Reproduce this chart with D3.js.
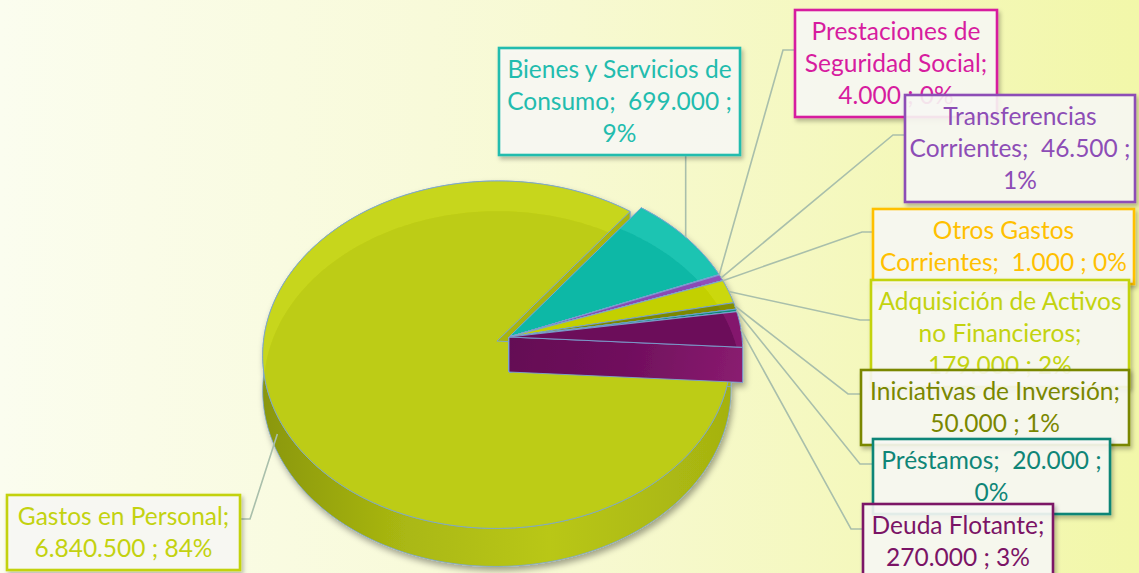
<!DOCTYPE html>
<html>
<head>
<meta charset="utf-8">
<script src="https://cdn.jsdelivr.net/npm/d3@7"></script>
<style>
  html, body { margin: 0; padding: 0; background: #fff; }
  svg { display: block; }
  .lbl { font-family: Lato, "Open Sans", sans-serif; white-space: pre; }
</style>
</head>
<body>
<svg id="chart" width="1139" height="573"></svg>
<script>
// ---- data ----
const categories = [
  "Gastos en Personal",
  "Bienes y Servicios de Consumo",
  "Prestaciones de Seguridad Social",
  "Transferencias Corrientes",
  "Otros Gastos Corrientes",
  "Adquisición de Activos no Financieros",
  "Iniciativas de Inversión",
  "Préstamos",
  "Deuda Flotante"
];
const values = [6840500, 699000, 4000, 46500, 1000, 179000, 50000, 20000, 270000];
// words per label line
const lineWords = [[3, 3], [4, 3, 1], [2, 2, 3], [1, 3, 1], [2, 4], [3, 2, 3], [3, 3], [3, 1], [2, 3]];

// ---- styles ----
const topColors   = ["#c7d61c", "#1ec4b2", "#da1ca2", "#9150bb", "#ffc41a", "#cbd80a", "#858f00", "#11907f", "#84196d"];
const innerColors = ["#bdcc14", "#10b8a6", "#d1149a", "#8a48b5", "#f5b800", "#c3d000", "#7c8800", "#0d8676", "#6c0e5a"];
const labelColors = ["#c3d20f", "#22bcae", "#d71c9f", "#8d4db6", "#ffc000", "#c3d30f", "#7a8700", "#0f8577", "#7b1466"];
const explode = [0.057, 0, 0, 0, 0, 0, 0, 0, 0];

// label boxes: x, y, width, side the leader leaves from, leader y offset, elbow length
const boxes = [
  { x: 7,   y: 495, w: 233, side: "right",  dy: 24, elbow: 10 },
  { x: 499, y: 48,  w: 241, side: "bottom", dy: 0,  elbow: 0 },
  { x: 795, y: 10,  w: 202, side: "left",   dy: 40, elbow: 12 },
  { x: 905, y: 95,  w: 230, side: "left",   dy: 40, elbow: 12 },
  { x: 873, y: 209, w: 261, side: "left",   dy: 23, elbow: 11 },
  { x: 871, y: 280, w: 258, side: "left",   dy: 40, elbow: 11 },
  { x: 861, y: 370, w: 268, side: "left",   dy: 24, elbow: 13 },
  { x: 873, y: 439, w: 237, side: "left",   dy: 25, elbow: 13 },
  { x: 863, y: 504, w: 190, side: "left",   dy: 25, elbow: 12 }
];

const W = 1139, H = 573;
const CX = 509, CY = 337, RX = 233, RY = 172, PERSP = 0.078, DEPTH = 35;
const START = (90 + 3.42) * Math.PI / 180;
const OUTLINE = "#7aa5d3";
const FONT_SIZE = 24.5, LINE_H = 32, FIRST_BASE = 30;

const svg = d3.select("#chart");
const defs = svg.append("defs");

// background
const bg = defs.append("linearGradient").attr("id", "bg").attr("x1", 0).attr("x2", 1).attr("y1", 0).attr("y2", 0);
bg.append("stop").attr("offset", 0).attr("stop-color", "#fbfdef");
bg.append("stop").attr("offset", 0.5).attr("stop-color", "#f7f9d2");
bg.append("stop").attr("offset", 1).attr("stop-color", "#f2f7a9");
svg.append("rect").attr("width", W).attr("height", H).attr("fill", "url(#bg)");

// filters
const ps = defs.append("filter").attr("id", "pieShadow").attr("x", -0.1).attr("y", -0.1).attr("width", 1.3).attr("height", 1.3);
ps.append("feDropShadow").attr("dx", 2).attr("dy", 4).attr("stdDeviation", 3).attr("flood-color", "#000").attr("flood-opacity", 0.35);
const bs = defs.append("filter").attr("id", "boxShadow").attr("x", -0.1).attr("y", -0.1).attr("width", 1.3).attr("height", 1.4);
bs.append("feDropShadow").attr("dx", 2).attr("dy", 3).attr("stdDeviation", 2).attr("flood-color", "#000").attr("flood-opacity", 0.28);

// rim gradient of the large slice
const rg = defs.append("linearGradient").attr("id", "rimGrad").attr("gradientUnits", "userSpaceOnUse")
  .attr("x1", 263).attr("x2", 740).attr("y1", 0).attr("y2", 0);
[[0, "#8a970b"], [0.3, "#aab812"], [0.6, "#b9c716"], [1, "#a4b110"]].forEach(([o, c]) =>
  rg.append("stop").attr("offset", o).attr("stop-color", c));
// front cut face gradient of the last slice
const fg = defs.append("linearGradient").attr("id", "faceGrad").attr("gradientUnits", "userSpaceOnUse")
  .attr("x1", 509).attr("y1", 338).attr("x2", 742).attr("y2", 385);
[[0, "#640b54"], [0.5, "#700f5d"], [1, "#8a1c70"]].forEach(([o, c]) =>
  fg.append("stop").attr("offset", o).attr("stop-color", c));

// perspective projection of a disk point (X, Z in radius units, h = depth in px)
function proj(X, Z, h) {
  const s = 1 / (1 - PERSP * Z);
  return [CX + RX * X * s, CY + RY * Z * s + h * s];
}
function arcPts(ox, oz, a0, a1, h, r = 1) {
  const n = Math.max(2, Math.ceil(Math.abs(a1 - a0) / (Math.PI / 180))) + 1;
  return d3.range(n).map(k => {
    const a = a0 + (a1 - a0) * k / (n - 1);
    return proj(ox + r * Math.cos(a), oz + r * Math.sin(a), h);
  });
}
const poly = pts => "M" + pts.map(p => p[0].toFixed(2) + "," + p[1].toFixed(2)).join("L") + "Z";

const pie = d3.pie().sort(null).startAngle(START).endAngle(START + 2 * Math.PI);
const arcs = pie(values);

const pieG = svg.append("g").attr("filter", "url(#pieShadow)");
const anchors = [];

arcs.forEach((d, i) => {
  const a0 = d.startAngle - Math.PI / 2, a1 = d.endAngle - Math.PI / 2, am = (a0 + a1) / 2;
  const ox = explode[i] * Math.cos(am), oz = explode[i] * Math.sin(am);
  const g = pieG.append("g");
  const faceCol = d3.color(innerColors[i]).darker(0.2).formatHex();

  // outer rim
  const topArc = arcPts(ox, oz, a0, a1, 0);
  const botArc = arcPts(ox, oz, a0, a1, DEPTH);
  g.append("path").attr("d", poly(topArc.concat(botArc.slice().reverse())))
    .attr("fill", i === 0 ? "url(#rimGrad)" : d3.color(topColors[i]).darker(0.15).formatHex())
    .attr("stroke", OUTLINE).attr("stroke-width", 0.8);

  // radial cut faces
  [a0, a1].forEach((a, j) => {
    const c0 = proj(ox, oz, 0), r0 = proj(ox + Math.cos(a), oz + Math.sin(a), 0);
    const r1 = proj(ox + Math.cos(a), oz + Math.sin(a), DEPTH), c1 = proj(ox, oz, DEPTH);
    const isFront = (j === 1 && i === arcs.length - 1);
    g.append("path").attr("d", poly([c0, r0, r1, c1]))
      .attr("fill", isFront ? "url(#faceGrad)" : (i === 0 ? "#a8b510" : faceCol))
      .attr("stroke", OUTLINE).attr("stroke-width", 0.9);
  });

  // top surface with a lighter outer band
  const topPts = [proj(ox, oz, 0)].concat(topArc);
  defs.append("clipPath").attr("id", "clip" + i).append("path").attr("d", poly(topPts));
  g.append("path").attr("d", poly(topPts)).attr("fill", topColors[i]);
  g.append("path").attr("d", poly(arcPts(ox, oz + 0.18, 0, 2 * Math.PI, 0, 0.98)))
    .attr("fill", innerColors[i]).attr("clip-path", `url(#clip${i})`);
  g.append("path").attr("d", poly(topPts)).attr("fill", "none")
    .attr("stroke", OUTLINE).attr("stroke-width", 0.9);

  anchors.push(i === 0
    ? proj(ox + Math.cos(am), oz + Math.sin(am), DEPTH / 2)
    : proj(ox + Math.cos(am), oz + Math.sin(am), 0));
});

// ---- labels ----
const fmtNum = d3.formatLocale({ decimal: ",", thousands: ".", grouping: [3], currency: ["", ""] }).format(",d");
const total = d3.sum(values);
const labelLines = i => {
  const txt = `${categories[i]};  ${fmtNum(values[i])} ; ${Math.round(values[i] / total * 100)}%`;
  const tokens = txt.match(/\S+\s*/g);
  const out = [];
  let k = 0;
  lineWords[i].forEach(n => { out.push(tokens.slice(k, k + n).join("").trimEnd()); k += n; });
  return out;
};

// leader lines
const leaderG = svg.append("g");
boxes.forEach((b, i) => {
  const n = lineWords[i].length;
  const h = LINE_H * n + 11;
  const a = anchors[i];
  let pts;
  if (b.side === "left") pts = [[b.x, b.y + b.dy], [b.x - b.elbow, b.y + b.dy], a];
  else if (b.side === "right") pts = [[b.x + b.w, b.y + b.dy], [b.x + b.w + b.elbow, b.y + b.dy], a];
  else pts = [[a[0], b.y + h], a];
  leaderG.append("path").attr("d", d3.line()(pts)).attr("fill", "none")
    .attr("stroke", "#a9bfab").attr("stroke-width", 1.6);
});

// label boxes
const labelG = svg.append("g");
boxes.forEach((b, i) => {
  const lines = labelLines(i);
  const h = LINE_H * lines.length + 11;
  const g = labelG.append("g");
  g.append("rect").attr("x", b.x).attr("y", b.y).attr("width", b.w).attr("height", h)
    .attr("fill", "#fbfaf7").attr("fill-opacity", 0.88)
    .attr("stroke", labelColors[i]).attr("stroke-width", 2.6)
    .attr("filter", "url(#boxShadow)");
  lines.forEach((ln, k) => {
    g.append("text").attr("class", "lbl")
      .attr("x", b.x + b.w / 2).attr("y", b.y + FIRST_BASE + k * LINE_H)
      .attr("text-anchor", "middle").attr("font-size", FONT_SIZE)
      .attr("fill", labelColors[i]).text(ln);
  });
});
</script>
</body>
</html>
